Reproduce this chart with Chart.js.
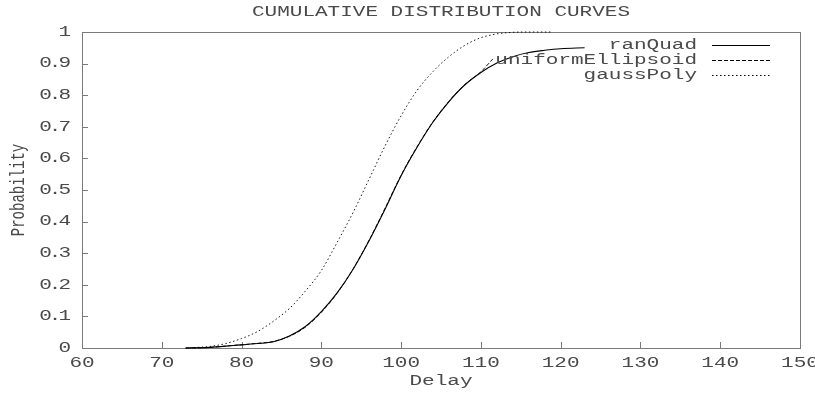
<!DOCTYPE html>
<html>
<head>
<meta charset="utf-8">
<script src="https://cdn.jsdelivr.net/npm/chart.js@4/dist/chart.umd.min.js"></script>
<style>
  html, body { margin: 0; background: #fff; }
  #wrap { width: 815px; height: 394px; }
</style>
</head>
<body>
<div id="wrap"><canvas id="chart"></canvas></div>
<script>
// --- DATA ---
const delayRanQuad = [73, 76, 79, 82, 84, 86, 88, 90, 92, 94, 96, 98, 100, 102, 104, 106, 108, 110, 112, 114, 116, 118, 120, 123];
const probRanQuad  = [0, 0.002, 0.008, 0.014, 0.02, 0.038, 0.068, 0.115, 0.175, 0.25, 0.34, 0.44, 0.545, 0.635, 0.715, 0.78, 0.833, 0.872, 0.902, 0.922, 0.935, 0.942, 0.947, 0.95];

const delayUniform = [73, 76, 79, 82, 84, 86, 88, 90, 92, 94, 96, 98, 100, 102, 104, 106, 108, 110, 111.5];
const probUniform  = [0, 0.002, 0.008, 0.015, 0.021, 0.037, 0.066, 0.113, 0.174, 0.251, 0.342, 0.443, 0.547, 0.637, 0.716, 0.781, 0.834, 0.874, 0.915];

const delayGauss = [73, 76, 78, 80, 82, 84, 86, 88, 90, 92, 94, 96, 98, 100, 102, 104, 106, 108, 110, 112, 114, 116, 119];
const probGauss  = [0, 0.005, 0.014, 0.03, 0.052, 0.085, 0.125, 0.18, 0.245, 0.335, 0.43, 0.535, 0.64, 0.735, 0.815, 0.875, 0.922, 0.958, 0.982, 0.994, 0.999, 1.0, 1.0];

const xTicks = [60, 70, 80, 90, 100, 110, 120, 130, 140, 150];
const yTicks = [0, 0.1, 0.2, 0.3, 0.4, 0.5, 0.6, 0.7, 0.8, 0.9, 1];
const yTickLabels = ['0', '0.1', '0.2', '0.3', '0.4', '0.5', '0.6', '0.7', '0.8', '0.9', '1'];

const seriesNames = ['ranQuad', 'uniformEllipsoid', 'gaussPoly'];
const seriesDash = [[], [4, 2], [1.5, 2.5]];

// --- helpers ---
function toPoints(xs, ys) {
    return xs.map((x, i) => ({ x: x, y: ys[i] }));
}

const FONT = '14px "Liberation Mono", "DejaVu Sans Mono", monospace';
const TEXT = '#4a4a4a';

// gnuplot output was stretched sideways, so text is widened
function wideText(ctx, str, x, y, align, vertical, spacing) {
    ctx.save();
    ctx.translate(x, y);
    ctx.scale(1.5, 1);
    if (vertical) ctx.rotate(-Math.PI / 2);
    ctx.font = FONT;
    ctx.fillStyle = TEXT;
    ctx.textAlign = align;
    ctx.textBaseline = 'middle';
    if (spacing) ctx.letterSpacing = spacing;
    ctx.fillText(str, 0, 0);
    ctx.restore();
}

// --- frame and ticks go under the curves ---
const gnuplotFrame = {
    id: 'gnuplotFrame',
    beforeDatasetsDraw(chart) {
        const ctx = chart.ctx;
        const a = chart.chartArea;
        const xs = chart.scales.x;
        const ys = chart.scales.y;

        ctx.save();
        ctx.strokeStyle = '#7a7a7a';
        ctx.lineWidth = 1;
        ctx.strokeRect(Math.round(a.left) + 0.5, Math.round(a.top) + 0.5,
                       Math.round(a.right - a.left), Math.round(a.bottom - a.top));
        ctx.beginPath();
        xTicks.forEach(v => {
            const px = Math.round(xs.getPixelForValue(v)) + 0.5;
            ctx.moveTo(px, a.bottom);
            ctx.lineTo(px, a.bottom - 6);
        });
        yTicks.forEach(v => {
            const py = Math.round(ys.getPixelForValue(v)) + 0.5;
            ctx.moveTo(a.left, py);
            ctx.lineTo(a.left + 6, py);
        });
        ctx.stroke();
        ctx.restore();
    }
};

// --- labels and key on top ---
const gnuplotText = {
    id: 'gnuplotText',
    afterDatasetsDraw(chart) {
        const ctx = chart.ctx;
        const a = chart.chartArea;
        const xs = chart.scales.x;
        const ys = chart.scales.y;

        xTicks.forEach(v => wideText(ctx, String(v), xs.getPixelForValue(v), 363, 'center'));
        yTicks.forEach((v, i) => wideText(ctx, yTickLabels[i], 68, ys.getPixelForValue(v), 'right', false, '-2px'));

        const midX = (a.left + a.right) / 2;
        wideText(ctx, 'CUMULATIVE DISTRIBUTION CURVES', midX, 12, 'center');
        wideText(ctx, 'Delay', midX, 381, 'center');
        wideText(ctx, 'Probability', 18, (a.top + a.bottom) / 2, 'center', true);

        // key
        const keyRows = [45, 60, 75];
        seriesNames.forEach((name, i) => {
            wideText(ctx, name, 697, keyRows[i], 'right');
            ctx.save();
            ctx.strokeStyle = '#000';
            ctx.lineWidth = i === 0 ? 1.2 : 1;
            ctx.setLineDash(seriesDash[i]);
            ctx.beginPath();
            ctx.moveTo(712, keyRows[i] + 0.5);
            ctx.lineTo(770, keyRows[i] + 0.5);
            ctx.stroke();
            ctx.restore();
        });
    }
};

// --- CHART ---
new Chart(document.getElementById('chart'), {
    type: 'line',
    data: {
        datasets: [
            { label: seriesNames[0], data: toPoints(delayRanQuad, probRanQuad), borderDash: seriesDash[0], borderWidth: 1.1 },
            { label: seriesNames[1], data: toPoints(delayUniform, probUniform), borderDash: seriesDash[1], borderWidth: 0.9 },
            { label: seriesNames[2], data: toPoints(delayGauss, probGauss), borderDash: seriesDash[2], borderWidth: 0.9 }
        ].map(d => Object.assign(d, {
            borderColor: '#000',
            pointRadius: 0,
            fill: false,
            clip: 3,
            cubicInterpolationMode: 'monotone'
        }))
    },
    options: {
        responsive: true,
        maintainAspectRatio: false,
        animation: false,
        layout: { padding: { top: 32, right: 15, left: 0, bottom: 0 } },
        plugins: { legend: { display: false }, title: { display: false }, tooltip: { enabled: false } },
        scales: {
            x: {
                type: 'linear', min: 60, max: 150,
                ticks: { display: false },
                grid: { display: false },
                border: { display: false },
                afterFit(scale) { scale.height = 46; }
            },
            y: {
                type: 'linear', min: 0, max: 1,
                ticks: { display: false },
                grid: { display: false },
                border: { display: false },
                afterFit(scale) { scale.width = 82; }
            }
        }
    },
    plugins: [gnuplotFrame, gnuplotText]
});
</script>
</body>
</html>
